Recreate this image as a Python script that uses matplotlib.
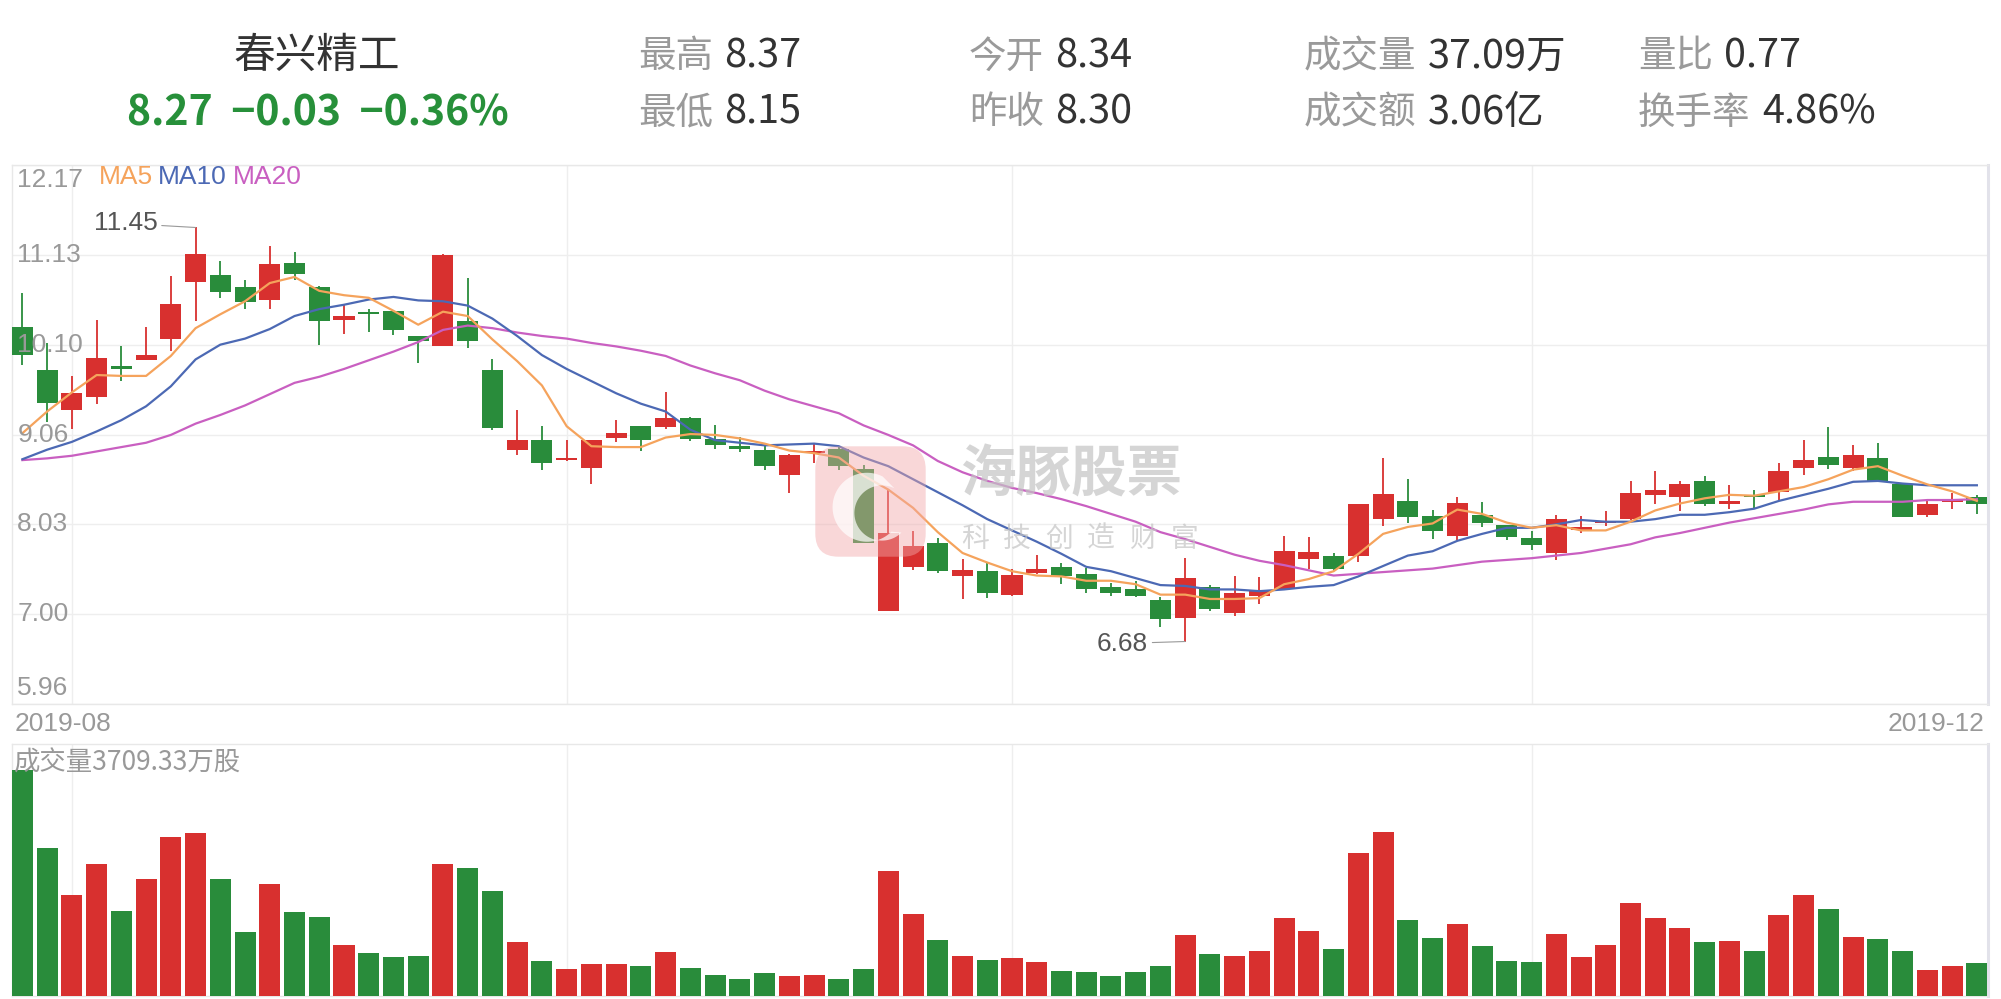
import numpy as np
import matplotlib.pyplot as plt
from matplotlib.patches import FancyBboxPatch, Polygon

plt.rcParams['font.family'] = ['Liberation Sans', 'Noto Sans CJK SC', 'DejaVu Sans']
CJK = ['Noto Sans CJK SC', 'DejaVu Sans']

# ---- data ----
stock_name = '春兴精工'
quote = ['8.27', '-0.03', '-0.36%']
stat_labels = [['最高', '今开', '成交量', '量比'], ['最低', '昨收', '成交额', '换手率']]
stat_values = [['8.37', '8.34', '37.09万', '0.77'], ['8.15', '8.30', '3.06亿', '4.86%']]

opens = [10.30, 9.81, 9.35, 9.50, 9.85, 9.92, 10.17, 10.82, 10.90, 10.76,
         10.61, 11.04, 10.77, 10.38, 10.47, 10.49, 10.20, 10.09, 10.37, 9.81,
         8.89, 9.00, 8.77, 8.68, 9.02, 9.16, 9.15, 9.26, 9.01, 8.93,
         8.89, 8.60, 8.85, 8.90, 8.67, 7.03, 7.54, 7.82, 7.43, 7.49,
         7.22, 7.47, 7.54, 7.46, 7.31, 7.29, 7.16, 6.95, 7.31, 7.01,
         7.21, 7.29, 7.63, 7.67, 7.66, 8.09, 8.30, 8.13, 7.89, 8.14,
         8.02, 7.87, 7.70, 7.97, 8.04, 8.09, 8.37, 8.35, 8.53, 8.27,
         8.36, 8.40, 8.68, 8.81, 8.68, 8.80, 8.49, 8.14, 8.29, 8.34]
highs = [10.70, 10.12, 9.74, 10.38, 10.08, 10.30, 10.89, 11.45, 11.06, 10.85,
         11.24, 11.17, 10.78, 10.57, 10.51, 10.49, 10.20, 11.14, 10.87, 9.93,
         9.35, 9.16, 9.00, 9.00, 9.23, 9.16, 9.55, 9.27, 9.18, 9.04,
         8.94, 8.84, 8.95, 8.93, 8.71, 8.43, 7.95, 7.87, 7.63, 7.59,
         7.51, 7.68, 7.59, 7.53, 7.35, 7.38, 7.19, 7.64, 7.33, 7.43,
         7.42, 7.89, 7.88, 7.70, 8.26, 8.80, 8.55, 8.20, 8.35, 8.29,
         8.02, 7.95, 8.14, 8.13, 8.18, 8.53, 8.64, 8.53, 8.59, 8.48,
         8.42, 8.74, 9.00, 9.15, 8.94, 8.97, 8.49, 8.31, 8.39, 8.37]
lows = [9.87, 9.21, 9.13, 9.42, 9.68, 9.92, 10.03, 10.37, 10.64, 10.51,
        10.51, 10.84, 10.10, 10.22, 10.25, 10.21, 9.89, 10.08, 10.06, 9.12,
        8.83, 8.66, 8.76, 8.50, 8.98, 8.88, 9.13, 8.99, 8.90, 8.86,
        8.66, 8.39, 8.74, 8.66, 7.82, 7.03, 7.50, 7.47, 7.17, 7.18,
        7.21, 7.46, 7.34, 7.24, 7.20, 7.19, 6.85, 6.68, 7.03, 6.97,
        7.11, 7.28, 7.52, 7.49, 7.60, 8.01, 8.04, 7.86, 7.85, 8.00,
        7.85, 7.74, 7.62, 7.93, 8.01, 8.08, 8.27, 8.18, 8.24, 8.21,
        8.21, 8.31, 8.60, 8.67, 8.64, 8.53, 8.11, 8.11, 8.21, 8.15]
closes = [9.98, 9.43, 9.54, 9.95, 9.82, 9.98, 10.57, 11.15, 10.71, 10.59,
          11.03, 10.91, 10.37, 10.43, 10.45, 10.27, 10.14, 11.13, 10.14, 9.14,
          9.00, 8.74, 8.79, 9.00, 9.08, 9.00, 9.26, 9.01, 8.94, 8.90,
          8.70, 8.83, 8.88, 8.70, 7.82, 7.93, 7.78, 7.49, 7.50, 7.24,
          7.45, 7.52, 7.43, 7.28, 7.24, 7.21, 6.94, 7.41, 7.06, 7.24,
          7.26, 7.72, 7.71, 7.51, 8.26, 8.38, 8.12, 7.95, 8.28, 8.04,
          7.88, 7.79, 8.09, 7.98, 8.07, 8.39, 8.42, 8.49, 8.26, 8.30,
          8.34, 8.64, 8.77, 8.71, 8.83, 8.53, 8.12, 8.26, 8.30, 8.27]

ma5 = [9.08, 9.33, 9.55, 9.75, 9.74, 9.74, 9.97, 10.29, 10.45, 10.60,
       10.81, 10.88, 10.72, 10.67, 10.64, 10.49, 10.33, 10.48, 10.43, 10.16,
       9.91, 9.63, 9.16, 8.93, 8.92, 8.92, 9.03, 9.07, 9.06, 9.02,
       8.96, 8.88, 8.85, 8.80, 8.59, 8.43, 8.22, 7.94, 7.70, 7.59,
       7.49, 7.44, 7.43, 7.38, 7.38, 7.34, 7.22, 7.22, 7.17, 7.17,
       7.18, 7.34, 7.40, 7.49, 7.69, 7.92, 8.00, 8.04, 8.20, 8.15,
       8.05, 7.99, 8.02, 7.96, 7.96, 8.06, 8.19, 8.27, 8.33, 8.37,
       8.36, 8.41, 8.46, 8.55, 8.66, 8.70, 8.59, 8.49, 8.41, 8.30]
ma10 = [8.78, 8.89, 8.98, 9.10, 9.23, 9.39, 9.62, 9.93, 10.10, 10.17,
        10.28, 10.43, 10.51, 10.56, 10.62, 10.65, 10.61, 10.60, 10.55, 10.40,
        10.20, 9.98, 9.82, 9.68, 9.54, 9.42, 9.33, 9.12, 9.00, 8.97,
        8.94, 8.95, 8.96, 8.93, 8.80, 8.70, 8.55, 8.40, 8.25, 8.09,
        7.96, 7.83, 7.69, 7.54, 7.49, 7.41, 7.33, 7.32, 7.28, 7.28,
        7.26, 7.28, 7.31, 7.33, 7.43, 7.55, 7.67, 7.72, 7.84, 7.92,
        7.99, 7.99, 8.03, 8.08, 8.06, 8.06, 8.09, 8.14, 8.14, 8.17,
        8.21, 8.30, 8.37, 8.44, 8.52, 8.53, 8.50, 8.48, 8.48, 8.48]
ma20 = [8.77, 8.79, 8.82, 8.87, 8.92, 8.97, 9.06, 9.19, 9.29, 9.40,
        9.53, 9.66, 9.73, 9.82, 9.92, 10.02, 10.13, 10.27, 10.32, 10.29,
        10.24, 10.20, 10.17, 10.12, 10.08, 10.03, 9.97, 9.86, 9.77, 9.69,
        9.57, 9.47, 9.39, 9.31, 9.17, 9.06, 8.94, 8.76, 8.63, 8.53,
        8.45, 8.39, 8.32, 8.24, 8.15, 8.06, 7.94, 7.86, 7.77, 7.68,
        7.61, 7.56, 7.50, 7.44, 7.46, 7.48, 7.50, 7.52, 7.56, 7.60,
        7.62, 7.64, 7.67, 7.70, 7.75, 7.80, 7.88, 7.93, 7.99, 8.05,
        8.10, 8.15, 8.20, 8.26, 8.29, 8.29, 8.29, 8.31, 8.31, 8.32]

# volume, 万股
volume = [25663, 16806, 11469, 14989, 9652, 13286, 18055, 18509, 13286, 7267,
          12718, 9538, 8970, 5791, 4883, 4428, 4542, 14989, 14534, 11923,
          6132, 3974, 3066, 3634, 3634, 3407, 4996, 3179, 2385, 1930,
          2612, 2271, 2385, 1930, 3066, 14194, 9311, 6359, 4542, 4088,
          4315, 3861, 2839, 2725, 2271, 2687, 3407, 6927, 4769, 4542,
          5110, 8857, 7381, 5337, 16238, 18622, 8630, 6586, 8176, 5678,
          3974, 3861, 7040, 4428, 5791, 10560, 8857, 7721, 6132, 6245,
          5110, 9198, 11469, 9879, 6699, 6472, 5110, 2952, 3407, 3709.33]

price_ticks = ['12.17', '11.13', '10.10', '9.06', '8.03', '7.00', '5.96']
month_starts = [2, 22, 40, 61]   # first trading day of Sep, Oct, Nov, Dec
date_labels = ['2019-08', '2019-12']

# ---- style ----
RED = '#d8302f'
GREEN = '#298c3b'
C_MA5 = '#f5a35c'
C_MA10 = '#4c69b4'
C_MA20 = '#c95fc1'
GRID = '#eeeeee'
LABEL = '#999999'

W, H = 2001, 999
fig = plt.figure(figsize=(W / 100, H / 100), dpi=100)


def fx(x):
    return x / W


def fy(y):
    return 1 - y / H


o = np.array(opens)
c = np.array(closes)
hi = np.array(highs)
lo = np.array(lows)
vol = np.array(volume)
n = len(c)
xs = np.arange(n)
colors = [RED if cc >= oo else GREEN for oo, cc in zip(o, c)]

ax = fig.add_axes([fx(12), fy(704), fx(1988) - fx(12), fy(165) - fy(704)])
axv = fig.add_axes([fx(12), fy(996), fx(1988) - fx(12), fy(744) - fy(996)])

for a in (ax, axv):
    a.set_xlim(-0.42, n - 0.55)
    a.set_xticks([])
    a.set_yticks([])
    for s in a.spines.values():
        s.set_color('#e8e8e8')
        s.set_linewidth(1)
    a.spines['right'].set_color('#e2e2ea')
    a.spines['right'].set_linewidth(2.2)
    for m in month_starts:
        a.axvline(m, color=GRID, lw=1, zorder=0)

# price panel
tick_vals = [float(t) for t in price_ticks]
ax.set_ylim(min(tick_vals), max(tick_vals))
for t in tick_vals:
    ax.axhline(t, color=GRID, lw=1, zorder=0)

ax.vlines(xs, lo, hi, colors=colors, lw=1.3, zorder=2)
ax.bar(xs, np.maximum(np.abs(c - o), 0.025), bottom=np.minimum(o, c),
       width=0.85, color=colors, zorder=3)
ax.plot(xs, ma20, color=C_MA20, lw=1.6, zorder=4)
ax.plot(xs, ma10, color=C_MA10, lw=1.6, zorder=4)
ax.plot(xs, ma5, color=C_MA5, lw=1.6, zorder=4)

for lab, v in zip(price_ticks, tick_vals):
    if v == max(tick_vals):
        va, dy = 'top', -3
    elif v == min(tick_vals):
        va, dy = 'bottom', 4
    else:
        va, dy = 'center', 0
    ax.annotate(lab, xy=(0.0027, v), xycoords=('axes fraction', 'data'),
                xytext=(0, dy), textcoords='offset pixels',
                ha='left', va=va, fontsize=19, color=LABEL, zorder=6)

# high / low markers
ih = int(np.argmax(hi))
il = int(np.argmin(lo))
ax.annotate(f'{hi[ih]:.2f}', xy=(ih, hi[ih]), xytext=(-38, 4), textcoords='offset pixels',
            ha='right', va='center', fontsize=19, color='#555555',
            arrowprops=dict(arrowstyle='-', color='#999999', lw=0.8, shrinkA=1, shrinkB=0))
ax.annotate(f'{lo[il]:.2f}', xy=(il, lo[il]), xytext=(-37, -2), textcoords='offset pixels',
            ha='right', va='center', fontsize=19, color='#555555',
            arrowprops=dict(arrowstyle='-', color='#999999', lw=0.8, shrinkA=1, shrinkB=0))

# legend
fig.text(fx(99), fy(177), 'MA5', color=C_MA5, fontsize=19, va='center')
fig.text(fx(158), fy(177), 'MA10', color=C_MA10, fontsize=19, va='center')
fig.text(fx(233), fy(177), 'MA20', color=C_MA20, fontsize=19, va='center')

# dates
fig.text(fx(15), fy(724), date_labels[0], color=LABEL, fontsize=19, ha='left', va='center')
fig.text(fx(1984), fy(724), date_labels[1], color=LABEL, fontsize=19, ha='right', va='center')

# volume panel
axv.set_ylim(0, vol.max() * 1.115)
axv.bar(xs, vol, width=0.85, color=colors, zorder=3)
fig.text(fx(13), fy(763), f'成交量{vol[-1]:.2f}万股', family=CJK, color=LABEL,
         fontsize=19, ha='left', va='center')

# header
fig.text(fx(317), fy(56), stock_name, family=CJK, color='#333333', fontsize=30,
         ha='center', va='center')
fig.text(fx(318), fy(113), '  '.join(quote).replace('-', '\u2212'), family=CJK,
         color='#27903a', fontsize=29.5, fontweight='bold', ha='center', va='center')
label_x = [638, 969, 1304, 1638]
row_y = [57, 113]
for r in range(2):
    for k in range(4):
        fig.text(fx(label_x[k]), fy(row_y[r]), stat_labels[r][k], family=CJK,
                 color='#9a9a9a', fontsize=27, ha='left', va='center')
        fig.text(fx(label_x[k] + 38 * len(stat_labels[r][k]) + 10), fy(row_y[r]),
                 stat_values[r][k], family=CJK, color='#333333', fontsize=28.5,
                 ha='left', va='center')

# watermark
logo = fig.add_axes([fx(813), fy(559), fx(928) - fx(813), fy(444) - fy(559)])
logo.set_xlim(0, 1)
logo.set_ylim(0, 1)
logo.axis('off')
logo.add_patch(FancyBboxPatch((0.02, 0.02), 0.96, 0.96,
                              boxstyle='round,pad=0,rounding_size=0.2',
                              fc='#f2a8aa', ec='none', alpha=0.45))
th = np.linspace(0.35 * np.pi, 1.75 * np.pi, 60)
outer = np.c_[0.47 + 0.3 * np.cos(th), 0.45 + 0.3 * np.sin(th)]
th2 = th[::-1]
inner = np.c_[0.6 + 0.24 * np.cos(th2), 0.4 + 0.24 * np.sin(th2)]
logo.add_patch(Polygon(np.vstack([outer, inner]), closed=True, fc='white', ec='none', alpha=0.7))

fig.text(fx(960), fy(476), '海豚股票', family=CJK, color='#c4c4c4', alpha=0.7,
         fontsize=40, fontweight='bold', ha='left', va='center', zorder=10)
for k, ch in enumerate('科技创造财富'):
    fig.text(fx(975 + k * 42), fy(539), ch, family=CJK, color='#c4c4c4', alpha=0.7,
             fontsize=20, ha='center', va='center', zorder=10)

fig.savefig('out.png', dpi=100, facecolor='white')
